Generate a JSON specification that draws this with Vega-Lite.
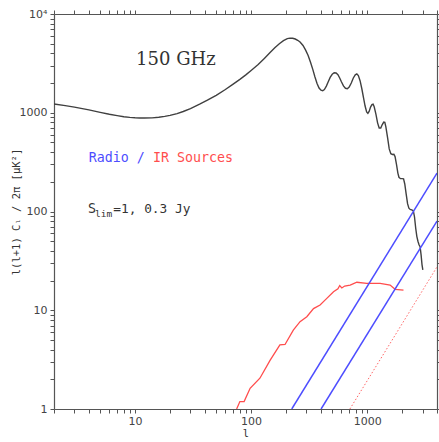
{
  "$schema": "https://vega.github.io/schema/vega-lite/v6.json",
  "autosize": "none",
  "padding": {"left": 54, "top": 14, "right": 2, "bottom": 33},
  "width": 383,
  "height": 395,
  "background": "white",
  "config": {
    "view": {"stroke": null},
    "axis": {
      "domainColor": "#555",
      "domainWidth": 1.2,
      "ticks": true,
      "tickColor": "#555",
      "tickWidth": 1,
      "grid": false,
      "labelFont": "DejaVu Sans",
      "labelFontSize": 11,
      "labelColor": "#444",
      "titleFont": "DejaVu Sans Mono",
      "titleFontWeight": "normal",
      "titleFontSize": 10.5,
      "titleColor": "#333",
      "labelOverlap": false
    }
  },
  "datasets": {
    "cmb": [
      {"l": 2, "v": 1227}, {"l": 2.5, "v": 1180}, {"l": 3, "v": 1140}, {"l": 4, "v": 1070},
      {"l": 5, "v": 1010}, {"l": 6, "v": 965}, {"l": 7, "v": 935}, {"l": 8, "v": 912},
      {"l": 9, "v": 898}, {"l": 10, "v": 890}, {"l": 11, "v": 886}, {"l": 12, "v": 885},
      {"l": 14, "v": 888}, {"l": 16, "v": 900}, {"l": 18, "v": 918}, {"l": 20, "v": 940},
      {"l": 23, "v": 980}, {"l": 26, "v": 1030}, {"l": 30, "v": 1100}, {"l": 36, "v": 1220},
      {"l": 42, "v": 1340}, {"l": 50, "v": 1500}, {"l": 60, "v": 1720}, {"l": 70, "v": 1950},
      {"l": 80, "v": 2180}, {"l": 90, "v": 2420}, {"l": 100, "v": 2680}, {"l": 115, "v": 3080},
      {"l": 130, "v": 3550}, {"l": 145, "v": 4050}, {"l": 160, "v": 4550}, {"l": 175, "v": 5000},
      {"l": 190, "v": 5380}, {"l": 205, "v": 5630}, {"l": 216, "v": 5700}, {"l": 228, "v": 5680},
      {"l": 240, "v": 5580}, {"l": 252, "v": 5420}, {"l": 264, "v": 5200}, {"l": 280, "v": 4800},
      {"l": 295, "v": 4300}, {"l": 310, "v": 3800}, {"l": 325, "v": 3250}, {"l": 340, "v": 2750},
      {"l": 355, "v": 2300}, {"l": 370, "v": 1980}, {"l": 385, "v": 1780}, {"l": 400, "v": 1690},
      {"l": 414, "v": 1670}, {"l": 428, "v": 1720}, {"l": 445, "v": 1860}, {"l": 462, "v": 2060},
      {"l": 480, "v": 2280}, {"l": 500, "v": 2450}, {"l": 520, "v": 2540}, {"l": 540, "v": 2530},
      {"l": 560, "v": 2430}, {"l": 580, "v": 2250}, {"l": 600, "v": 2060}, {"l": 625, "v": 1870},
      {"l": 650, "v": 1770}, {"l": 675, "v": 1750}, {"l": 700, "v": 1820}, {"l": 730, "v": 2000},
      {"l": 760, "v": 2250}, {"l": 790, "v": 2420}, {"l": 815, "v": 2470}, {"l": 840, "v": 2380},
      {"l": 870, "v": 2100}, {"l": 900, "v": 1750}, {"l": 930, "v": 1420}, {"l": 960, "v": 1170},
      {"l": 990, "v": 1020}, {"l": 1015, "v": 985}, {"l": 1040, "v": 1030}, {"l": 1070, "v": 1140},
      {"l": 1100, "v": 1210}, {"l": 1125, "v": 1220}, {"l": 1150, "v": 1150}, {"l": 1190, "v": 970},
      {"l": 1230, "v": 790}, {"l": 1270, "v": 700}, {"l": 1310, "v": 700}, {"l": 1350, "v": 760},
      {"l": 1390, "v": 805}, {"l": 1420, "v": 800}, {"l": 1450, "v": 720}, {"l": 1500, "v": 560},
      {"l": 1550, "v": 430}, {"l": 1600, "v": 385}, {"l": 1650, "v": 378}, {"l": 1700, "v": 380},
      {"l": 1740, "v": 360}, {"l": 1790, "v": 300}, {"l": 1840, "v": 245}, {"l": 1880, "v": 222},
      {"l": 1940, "v": 215}, {"l": 2000, "v": 215}, {"l": 2060, "v": 214}, {"l": 2110, "v": 190},
      {"l": 2170, "v": 150}, {"l": 2230, "v": 120}, {"l": 2290, "v": 108}, {"l": 2350, "v": 105},
      {"l": 2420, "v": 104}, {"l": 2500, "v": 102}, {"l": 2560, "v": 88}, {"l": 2620, "v": 68},
      {"l": 2680, "v": 56}, {"l": 2740, "v": 50}, {"l": 2800, "v": 46}, {"l": 2860, "v": 44},
      {"l": 2920, "v": 36}, {"l": 2970, "v": 29}, {"l": 3020, "v": 25.6}
    ],
    "ir": [
      {"l": 75, "v": 1}, {"l": 80, "v": 1.19}, {"l": 87, "v": 1.19}, {"l": 98, "v": 1.62},
      {"l": 119, "v": 2.05}, {"l": 146, "v": 3.13}, {"l": 177, "v": 4.45}, {"l": 196, "v": 4.5},
      {"l": 231, "v": 6.3}, {"l": 264, "v": 7.66}, {"l": 302, "v": 8.6}, {"l": 345, "v": 10.4},
      {"l": 393, "v": 11.3}, {"l": 449, "v": 13.2}, {"l": 513, "v": 15.4}, {"l": 560, "v": 16.5},
      {"l": 580, "v": 17.8}, {"l": 605, "v": 16.8}, {"l": 640, "v": 17.6}, {"l": 714, "v": 18.0},
      {"l": 815, "v": 19.2}, {"l": 994, "v": 18.7}, {"l": 1294, "v": 18.7}, {"l": 1578, "v": 18},
      {"l": 1742, "v": 16.3}, {"l": 2057, "v": 16}
    ],
    "radio1": [{"l": 224, "v": 1}, {"l": 4000, "v": 245}],
    "radio2": [{"l": 401, "v": 1}, {"l": 4000, "v": 80}],
    "irpois": [{"l": 710, "v": 1}, {"l": 4000, "v": 27.5}]
  },
  "resolve": {"axis": {"x": "independent", "y": "independent"}},
  "layer": [
    {
      "data": {"name": "cmb"},
      "mark": {"type": "line", "color": "#404040", "strokeWidth": 1.4, "clip": true},
      "encoding": {
        "x": {
          "field": "l", "type": "quantitative",
          "scale": {"type": "log", "domain": [2, 4000], "nice": false},
          "axis": {
            "orient": "bottom", "title": "l",
            "values": [2,3,4,5,6,7,8,9,10,20,30,40,50,60,70,80,90,100,200,300,400,500,600,700,800,900,1000,2000,3000,4000],
            "labelExpr": "abs(log(datum.value)/LN10 - round(log(datum.value)/LN10)) < 1e-6 ? format(datum.value, 'd') : ''",
            "ticks": true,
            "tickSize": 4,
            "labelPadding": 2,
            "titlePadding": 2,
            "encode": {"ticks": {"update": {"y2": {"signal": "abs(log(datum.value)/LN10 - round(log(datum.value)/LN10)) < 1e-6 ? -8 : -4"}}}}
          }
        },
        "y": {
          "field": "v", "type": "quantitative",
          "scale": {"type": "log", "domain": [1, 10000], "nice": false},
          "axis": {
            "orient": "left", "title": "l(l+1) Cₗ / 2π [μK²]",
            "values": [1,2,3,4,5,6,7,8,9,10,20,30,40,50,60,70,80,90,100,200,300,400,500,600,700,800,900,1000,2000,3000,4000,5000,6000,7000,8000,9000,10000],
            "labelExpr": "datum.value == 10000 ? '10⁴' : (abs(log(datum.value)/LN10 - round(log(datum.value)/LN10)) < 1e-6 ? format(datum.value, 'd') : '')",
            "ticks": true,
            "tickSize": 4,
            "labelPadding": 3,
            "titlePadding": -2,
            "encode": {"ticks": {"update": {"x2": {"signal": "abs(log(datum.value)/LN10 - round(log(datum.value)/LN10)) < 1e-6 ? 8 : 4"}}}}
          }
        }
      }
    },
    {
      "data": {"name": "ir"},
      "mark": {"type": "line", "color": "#ff4d4d", "strokeWidth": 1.3, "clip": true},
      "encoding": {
        "x": {
          "field": "l", "type": "quantitative",
          "axis": {
            "orient": "top", "title": null, "labels": false, "ticks": true,
            "values": [2,3,4,5,6,7,8,9,10,20,30,40,50,60,70,80,90,100,200,300,400,500,600,700,800,900,1000,2000,3000,4000],
            "tickSize": 4,
            "encode": {"ticks": {"update": {"y2": {"signal": "abs(log(datum.value)/LN10 - round(log(datum.value)/LN10)) < 1e-6 ? 8 : 4"}}}}
          }
        },
        "y": {
          "field": "v", "type": "quantitative",
          "axis": {
            "orient": "right", "title": null, "labels": false, "ticks": true,
            "values": [1,2,3,4,5,6,7,8,9,10,20,30,40,50,60,70,80,90,100,200,300,400,500,600,700,800,900,1000,2000,3000,4000,5000,6000,7000,8000,9000,10000],
            "tickSize": 4,
            "encode": {"ticks": {"update": {"x2": {"signal": "abs(log(datum.value)/LN10 - round(log(datum.value)/LN10)) < 1e-6 ? -8 : -4"}}}}
          }
        }
      }
    },
    {
      "data": {"name": "radio1"},
      "mark": {"type": "line", "color": "#4d4dff", "strokeWidth": 1.5, "clip": true},
      "encoding": {
        "x": {"field": "l", "type": "quantitative", "axis": null},
        "y": {"field": "v", "type": "quantitative", "axis": null}
      }
    },
    {
      "data": {"name": "radio2"},
      "mark": {"type": "line", "color": "#4d4dff", "strokeWidth": 1.5, "clip": true},
      "encoding": {
        "x": {"field": "l", "type": "quantitative", "axis": null},
        "y": {"field": "v", "type": "quantitative", "axis": null}
      }
    },
    {
      "data": {"name": "irpois"},
      "mark": {"type": "line", "color": "#ff6666", "strokeWidth": 1, "strokeDash": [1.5, 2], "clip": true},
      "encoding": {
        "x": {"field": "l", "type": "quantitative", "axis": null},
        "y": {"field": "v", "type": "quantitative", "axis": null}
      }
    },
    {
      "data": {"values": [{}]},
      "mark": {"type": "text", "text": "150 GHz", "font": "DejaVu Serif", "fontSize": 18, "color": "#333", "align": "left", "baseline": "middle"},
      "encoding": {
        "x": {"datum": 10.2, "type": "quantitative", "axis": null},
        "y": {"datum": 3400, "type": "quantitative", "axis": null}
      }
    },
    {
      "data": {"values": [{}]},
      "mark": {"type": "text", "text": "Radio /", "font": "DejaVu Sans Mono", "fontSize": 13.3, "color": "#4d4dff", "align": "left", "baseline": "middle"},
      "encoding": {
        "x": {"datum": 3.98, "type": "quantitative", "axis": null},
        "y": {"datum": 348, "type": "quantitative", "axis": null}
      }
    },
    {
      "data": {"values": [{}]},
      "mark": {"type": "text", "text": "IR Sources", "font": "DejaVu Sans Mono", "fontSize": 13.3, "color": "#ff4d4d", "align": "left", "baseline": "middle"},
      "encoding": {
        "x": {"datum": 14.27, "type": "quantitative", "axis": null},
        "y": {"datum": 348, "type": "quantitative", "axis": null}
      }
    },
    {
      "data": {"values": [{}]},
      "mark": {"type": "text", "text": "S", "font": "DejaVu Sans Mono", "fontSize": 13.3, "color": "#333", "align": "left", "baseline": "middle"},
      "encoding": {
        "x": {"datum": 3.93, "type": "quantitative", "axis": null},
        "y": {"datum": 106, "type": "quantitative", "axis": null}
      }
    },
    {
      "data": {"values": [{}]},
      "mark": {"type": "text", "text": "lim", "font": "DejaVu Sans Mono", "fontSize": 9.5, "color": "#333", "align": "left", "baseline": "middle"},
      "encoding": {
        "x": {"datum": 4.51, "type": "quantitative", "axis": null},
        "y": {"datum": 95, "type": "quantitative", "axis": null}
      }
    },
    {
      "data": {"values": [{}]},
      "mark": {"type": "text", "text": "=1, 0.3 Jy", "font": "DejaVu Sans Mono", "fontSize": 12.8, "color": "#333", "align": "left", "baseline": "middle"},
      "encoding": {
        "x": {"datum": 6.49, "type": "quantitative", "axis": null},
        "y": {"datum": 106, "type": "quantitative", "axis": null}
      }
    }
  ]
}
